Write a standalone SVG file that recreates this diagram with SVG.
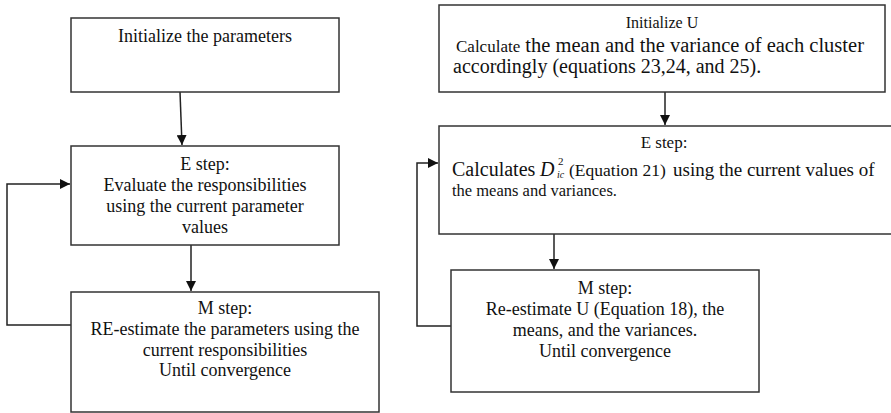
<svg xmlns="http://www.w3.org/2000/svg" width="891" height="413" viewBox="0 0 891 413">
<defs>
<marker id="ah" viewBox="0 0 10 10" refX="10" refY="5" markerWidth="10" markerHeight="10" markerUnits="userSpaceOnUse" orient="auto">
<path d="M0,0 L10,5 L0,10 z" fill="#111"/>
</marker>
<style>
.box{fill:#fff;stroke:#333;stroke-width:1.5}
.con{fill:none;stroke:#222;stroke-width:1.5}
text{font-family:"Liberation Serif","Times New Roman",serif;fill:#111}
.t18{font-size:18px}
.c{text-anchor:middle}
</style>
</defs>
<rect width="891" height="413" fill="#fff"/>

<g id="connectors">
<line class="con" x1="180" y1="92" x2="182" y2="145" marker-end="url(#ah)"/>
<line class="con" x1="191" y1="245" x2="191" y2="291" marker-end="url(#ah)"/>
<polyline class="con" points="71,325 7,325 7,184 70,184" marker-end="url(#ah)"/>
<line class="con" x1="665" y1="92" x2="665" y2="125" marker-end="url(#ah)"/>
<line class="con" x1="554" y1="234" x2="554" y2="269" marker-end="url(#ah)"/>
<polyline class="con" points="451,326 417,326 417,163 438,163" marker-end="url(#ah)"/>
</g>

<g id="left-init">
<rect class="box" x="71" y="18" width="268" height="74"/>
<text class="t18 c" x="205" y="42">Initialize the parameters</text>
</g>

<g id="left-estep">
<rect class="box" x="71" y="146" width="268" height="99"/>
<text class="t18 c" x="205" y="170">E step:</text>
<text class="t18 c" x="205" y="191">Evaluate the responsibilities</text>
<text class="t18 c" x="205" y="212">using the current parameter</text>
<text class="t18 c" x="205" y="233">values</text>
</g>

<g id="left-mstep">
<rect class="box" x="71" y="292" width="308" height="120"/>
<text class="t18 c" x="225" y="314">M step:</text>
<text class="t18 c" x="225" y="335">RE-estimate the parameters using the</text>
<text class="t18 c" x="225" y="356">current responsibilities</text>
<text class="t18 c" x="225" y="376">Until convergence</text>
</g>

<g id="right-init">
<rect class="box" x="439" y="5" width="446" height="87"/>
<text class="c" x="662" y="28" font-size="16">Initialize U</text>
<text x="456" y="52"><tspan font-size="17">Calculate</tspan><tspan font-size="20.5"> the mean and the variance of each cluster</tspan></text>
<text x="453" y="73" font-size="20">accordingly (equations 23,24, and 25).</text>
</g>

<g id="right-estep">
<rect class="box" x="439" y="126" width="460" height="108"/>
<text class="c" x="664" y="148" font-size="17">E step:</text>
<text x="452" y="176" font-size="20">Calculates</text>
<text x="540" y="176" font-size="20" font-style="italic">D</text>
<text x="557" y="178" font-size="10" font-style="italic">ic</text>
<text x="558" y="165" font-size="11">2</text>
<text x="569" y="176" font-size="17.5">(Equation 21)</text>
<text x="673" y="176" font-size="19">using the current values of</text>
<text x="452" y="196" font-size="16.5">the means and variances.</text>
</g>

<g id="right-mstep">
<rect class="box" x="451" y="270" width="308" height="122"/>
<text class="t18 c" x="605" y="294">M step:</text>
<text class="t18 c" x="605" y="315">Re-estimate U (Equation 18), the</text>
<text class="t18 c" x="605" y="336">means, and the variances.</text>
<text class="t18 c" x="605" y="357">Until convergence</text>
</g>
</svg>
